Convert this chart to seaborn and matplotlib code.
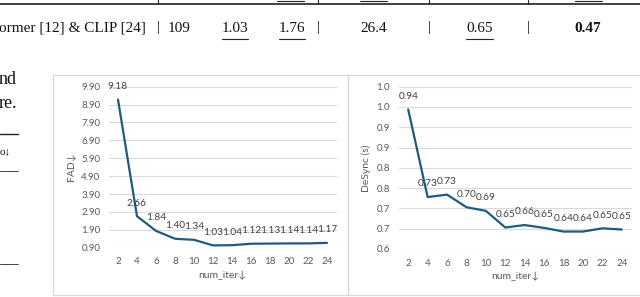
import matplotlib
matplotlib.use("Agg")
import matplotlib.pyplot as plt
import seaborn as sns
import pandas as pd
from matplotlib.patches import Rectangle
from matplotlib.lines import Line2D

# ---------------- data ----------------
num_iter = [2, 4, 6, 8, 10, 12, 14, 16, 18, 20, 22, 24]
fad = [9.18, 2.66, 1.84, 1.40, 1.34, 1.03, 1.04, 1.12, 1.13, 1.14, 1.14, 1.17]
desync = [0.944, 0.728, 0.734, 0.703, 0.694, 0.653, 0.659, 0.652, 0.643, 0.643, 0.651, 0.648]

fad_ticks = [0.90, 1.90, 2.90, 3.90, 4.90, 5.90, 6.90, 7.90, 8.90, 9.90]
fad_ticklabels = ["0.90", "1.90", "2.90", "3.90", "4.90", "5.90", "6.90", "7.90", "8.90", "9.90"]
desync_ticks = [0.60, 0.65, 0.70, 0.75, 0.80, 0.85, 0.90, 0.95, 1.00]
desync_ticklabels = ["0.6", "0.7", "0.7", "0.8", "0.8", "0.9", "0.9", "1.0", "1.0"]

table_row = ["ormer [12] & CLIP [24]", "109", "1.03", "1.76", "26.4", "0.65", "0.47"]

# ---------------- style ----------------
sns.set_theme(style="white")
plt.rcParams["font.family"] = ["Lato", "DejaVu Sans"]

W, H = 640, 297
fig = plt.figure(figsize=(W / 100, H / 100), dpi=100)
fig.patch.set_facecolor("white")

LINE = "#1d5c80"
GRID = "#d9d9d9"
TICK = "#595959"
LAB = "#404040"
SERIF = ["Liberation Serif", "DejaVu Serif"]


def fx(x):
    return x / W


def fy(y):
    return 1 - y / H


def add_ax(left, top, right, bottom):
    return fig.add_axes([fx(left), fy(bottom), (right - left) / W, (bottom - top) / H])


# ---------------- background: table snippet & text ----------------
fig.add_artist(Line2D([0, 1], [fy(4.3), fy(4.3)], color="#222222", lw=1.2))
for xv in [158, 317.5, 429, 528]:
    fig.add_artist(Line2D([fx(xv), fx(xv)], [fy(0), fy(4.3)], color="#222222", lw=0.8))
for a, b in [(277, 304), (360, 387), (575, 602)]:
    fig.add_artist(Line2D([fx(a), fx(b)], [fy(1), fy(1)], color="#222222", lw=0.8))

row_y = 28
FS = 11
fig.text(fx(-1), fy(row_y), table_row[0], family=SERIF, fontsize=FS, va="center", ha="left", color="#111111")
fig.text(fx(158), fy(row_y), "|", family=SERIF, fontsize=FS, va="center", ha="center", color="#111111")
fig.text(fx(179), fy(row_y), table_row[1], family=SERIF, fontsize=FS, va="center", ha="center", color="#111111")
fig.text(fx(235), fy(row_y), table_row[2], family=SERIF, fontsize=FS, va="center", ha="center", color="#111111")
fig.text(fx(292), fy(row_y), table_row[3], family=SERIF, fontsize=FS, va="center", ha="center", color="#111111")
fig.text(fx(318), fy(row_y), "|", family=SERIF, fontsize=FS, va="center", ha="center", color="#111111")
fig.text(fx(374), fy(row_y), table_row[4], family=SERIF, fontsize=FS, va="center", ha="center", color="#111111")
fig.text(fx(429), fy(row_y), "|", family=SERIF, fontsize=FS, va="center", ha="center", color="#111111")
fig.text(fx(480), fy(row_y), table_row[5], family=SERIF, fontsize=FS, va="center", ha="center", color="#111111")
fig.text(fx(528), fy(row_y), "|", family=SERIF, fontsize=FS, va="center", ha="center", color="#111111")
fig.text(fx(588), fy(row_y), table_row[6], family=SERIF, fontsize=FS, va="center", ha="center",
         color="#111111", fontweight="bold")
for a, b in [(222, 248), (279, 305), (466, 493)]:
    fig.add_artist(Line2D([fx(a), fx(b)], [fy(38.5), fy(38.5)], color="#222222", lw=0.8))

fig.text(fx(-1), fy(79), "nd", family=SERIF, fontsize=13, va="center", ha="left", color="#111111")
fig.text(fx(-1), fy(104), "re.", family=SERIF, fontsize=13, va="center", ha="left", color="#111111")
fig.text(fx(0), fy(152), "o\u2193", family=SERIF, fontsize=8, va="center", ha="left", color="#111111")
fig.add_artist(Line2D([0, fx(18)], [fy(134), fy(134)], color="#222222", lw=1.0))
fig.add_artist(Line2D([0, fx(18)], [fy(171), fy(171)], color="#222222", lw=0.6))
fig.add_artist(Line2D([0, fx(18)], [fy(264), fy(264)], color="#222222", lw=0.6))

# panel borders
fig.add_artist(Rectangle((fx(53), fy(295)), (348 - 53) / W, (295 - 75) / H, transform=fig.transFigure,
                         fill=False, edgecolor=GRID, lw=0.9))
fig.add_artist(Rectangle((fx(348), fy(295)), (660 - 348) / W, (295 - 75) / H, transform=fig.transFigure,
                         fill=False, edgecolor=GRID, lw=0.9, clip_on=False))

df = pd.DataFrame({"num_iter": num_iter, "FAD": fad, "DeSync": desync})


def style_axis(ax, ticks, ticklabels, ylim, ylabel):
    ax.set_xlim(1, 25)
    ax.set_ylim(*ylim)
    ax.set_yticks(ticks)
    ax.set_yticklabels(ticklabels)
    ax.set_xticks(num_iter)
    ax.set_xticklabels([str(v) for v in num_iter])
    ax.grid(axis="y", color=GRID, lw=0.8)
    ax.grid(axis="x", visible=False)
    ax.set_axisbelow(True)
    for s in ax.spines.values():
        s.set_visible(False)
    ax.tick_params(axis="y", length=0, pad=6, labelsize=7, labelcolor=TICK)
    ax.tick_params(axis="x", length=0, pad=7, labelsize=7, labelcolor=TICK)
    ax.set_xlabel("num_iter\u2193", fontsize=7.5, color=TICK, labelpad=3)
    ax.set_ylabel(ylabel, fontsize=7.5, color=TICK, labelpad=4)
    ax.set_facecolor("none")


# ---------------- FAD chart ----------------
ax1 = add_ax(108.5, 86.7, 336.5, 247.7)
sns.lineplot(data=df, x="num_iter", y="FAD", ax=ax1, color=LINE, lw=1.6)
style_axis(ax1, fad_ticks, fad_ticklabels, (0.90, 9.90), "FAD\u2193")
for xv, yv in zip(num_iter, fad):
    ax1.annotate(f"{yv:.2f}", (xv, yv), xytext=(0, 9.5), textcoords="offset points",
                 ha="center", va="center", fontsize=7.3, color=LAB, annotation_clip=False)

# ---------------- DeSync chart ----------------
ax2 = add_ax(398.5, 86.7, 631.5, 249)
sns.lineplot(data=df, x="num_iter", y="DeSync", ax=ax2, color=LINE, lw=1.6)
style_axis(ax2, desync_ticks, desync_ticklabels, (0.60, 1.00), "DeSync (s)")
for xv, yv in zip(num_iter, desync):
    ax2.annotate(f"{yv:.2f}", (xv, yv), xytext=(0, 9.5), textcoords="offset points",
                 ha="center", va="center", fontsize=7.3, color=LAB, annotation_clip=False)

fig.savefig("out.png", dpi=100, facecolor="white")
